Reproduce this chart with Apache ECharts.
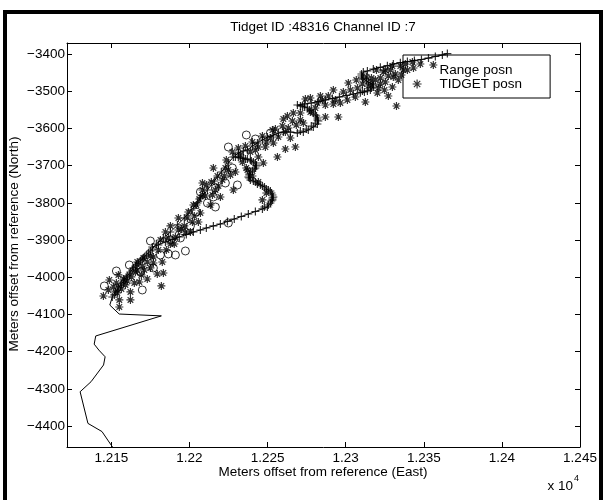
<!DOCTYPE html>
<html><head><meta charset="utf-8">
<script src="https://cdn.jsdelivr.net/npm/echarts@6/dist/echarts.min.js"></script>
<style>html,body{margin:0;padding:0;background:#fff}#c{width:603px;height:500px}</style>
</head><body><div id="c"></div>
<script>
const xTicks = [12150, 12200, 12250, 12300, 12350, 12400, 12450];
const yTicks = [-4400, -4300, -4200, -4100, -4000, -3900, -3800, -3700, -3600, -3500, -3400];

// Range track (solid line). '+' markers start at index plusStart.
const trackX = [12151,12149,12144,12135,12130,12137,12145,12146,12142,12139,12140,12182,12155,12149,
 12150.6,12152.6,12154.5,12156.4,12158.3,12160.2,12162.2,12164.1,12166.0,12168.6,12171.1,12173.7,12176.2,12178.8,12183.3,12187.8,12192.3,12196.7,12201.2,12205.1,12207.0,12211.5,12215.9,12220.4,12224.9,12228.1,
 12231.3,12234.5,12237.1,12240.3,12243.5,12246.7,12249.9,12253.7,12256.9,12260.1,12264.6,12269.1,
 12272.9,12276.1,12279.3,12281.9,12282.5,12281.9,12280.6,12278.0,12275.5,12272.3,12269.1,
 12273.6,12278.0,12282.5,12287.0,12291.5,12296.0,12300.4,12304.9,12309.4,
 12312.0,12315.8,12317.7,12317.1,12314.5,12311.3,12310.1,12311.3,
 12313.9,12317.7,12322.2,12326.7,12330.5,12335.0,12339.5,12344.0,12348.5,12353.0,12357.4,12361.9,12365.1];
const trackY = [-4458,-4446,-4415,-4393,-4308,-4281,-4236,-4214,-4196,-4180,-4158,-4104,-4099,-4075,
 -4053.2,-4039.7,-4029.0,-4018.2,-4007.5,-3996.7,-3986.0,-3975.2,-3967.2,-3956.4,-3945.7,-3934.9,-3924.2,-3910.7,-3894.6,-3878.5,-3859.6,-3840.8,-3819.3,-3800.5,-3787.1,-3765.6,-3741.4,-3717.2,-3693.0,-3676.9,
 -3666.1,-3660.7,-3658.0,-3647.3,-3639.2,-3631.2,-3623.1,-3617.7,-3612.4,-3609.7,-3609.7,-3612.4,
 -3609.7,-3604.3,-3596.2,-3588.2,-3580.1,-3572.0,-3564.0,-3553.2,-3545.2,-3539.8,-3537.1,
 -3534.4,-3531.7,-3527.7,-3523.6,-3519.6,-3515.6,-3511.6,-3507.5,-3504.0,
 -3502.1,-3496.8,-3488.7,-3480.6,-3475.3,-3467.2,-3459.1,-3448.4,
 -3445.7,-3440.3,-3435.8,-3431.4,-3426.9,-3423.4,-3420.2,-3417.5,-3414.8,-3410.8,-3406.7,-3402.7,-3398.7];
const plusStart = 14;

// Lower excursion of the range track (with '+' markers)
const loopX = [12176.2,12180.1,12184.6,12189.1,12193.5,12198.0,12202.5,12207.0,12210.8,12215.3,12219.8,12224.3,12228.7,12233.2,12237.7,12242.2,12246.7,
 12249.9,12251.8,12253.1,12253.7,12252.5,12250.5,12248.0,12245.4,12242.2,12239.0,12237.7,12238.4,12240.3,12242.2,12242.8,12240.9,12239.0,12235.8,12232.6,12229.4];
const loopY = [-3918.8,-3913.4,-3905.3,-3898.6,-3891.9,-3885.2,-3878.5,-3873.1,-3867.7,-3862.3,-3857.0,-3850.2,-3843.5,-3836.8,-3830.1,-3823.4,-3816.6,
 -3811.3,-3800.5,-3792.4,-3784.4,-3773.6,-3765.6,-3757.5,-3752.1,-3744.1,-3738.7,-3730.6,-3722.6,-3714.5,-3706.4,-3698.4,-3690.3,-3684.9,-3682.2,-3679.6,-3676.9];

// Extra '+' samples where the track turns slowly
const turnX = [12247.9,12250.5,12252.4,12253.1,12253.1,12251.8,12249.2,12246.7,12243.5,12240.9,12238.3,12238.3,12239.0,12241.5,12242.8,12242.2,12239.6,12237.1,12234.5,12231.3,
 12271.0,12274.8,12278.0,12280.6,12281.9,12281.2,12279.3,12276.8,12273.6,12271.0,
 12310.7,12313.9,12316.5,12317.7,12315.8,12313.3,12310.7,12310.1,
 12151.9,12153.8,12155.8,12157.7,12159.6,12161.5,12163.4,12165.4,12167.3,12169.8,12172.4,12175.0];
const turnY = [-3811.3,-3805.9,-3795.1,-3787.1,-3779.0,-3768.3,-3762.9,-3754.8,-3749.4,-3741.4,-3733.3,-3725.2,-3717.2,-3709.1,-3701.1,-3693.0,-3687.6,-3682.2,-3679.6,-3676.9,
 -3607.0,-3601.6,-3593.5,-3585.5,-3577.4,-3566.7,-3558.6,-3550.5,-3542.5,-3539.8,
 -3499.5,-3499.5,-3491.4,-3483.3,-3478.0,-3469.9,-3464.5,-3453.8,
 -4047.8,-4034.4,-4023.6,-4012.9,-4002.1,-3991.4,-3980.6,-3969.9,-3961.8,-3951.0,-3940.3,-3929.5];

// TIDGET positions (asterisks)
const tidX = [12144.9,12148.7,12153.2,12157.7,12155.1,12155.1,12162.2,12162.2,12169.8,12169.2,12167.9,12179.4,12183.3,12182.0,12176.9,12176.9,
 12184.6,12187.8,12192.9,12197.4,12201.9,12181.4,12190.3,12199.3,12204.4,12208.3,12215.3,12223.0,12208.3,12221.1,12226.2,12216.6,12228.1,12208.3,12207.0,12219.8,12213.4,12194.8,12173.0,12165.4,
 12231.3,12237.1,12244.1,12247.3,12253.7,12256.3,12261.4,12267.8,12255.0,12261.4,12260.1,12265.9,12242.2,12248.6,12233.9,
 12274.2,12281.9,12287.0,12292.1,12296.6,12287.0,12295.3,12292.1,12301.7,12306.2,12312.6,12277.4,12271.0,12283.8,12301.1,
 12325.4,12330.5,12324.1,12328.6,12335.0,12320.9,12335.7,12329.9,12339.5,12356.1,12316.5,12319.7,12342.7,12347.8,12332.5,12327.3,
 12148.1,12151.3,12153.8,12156.4,12159.0,12154.5,12160.2,12162.8,12164.7,12166.6,12171.1,12173.0,12175.0,12170.5,12166.6,12175.0,12180.1,12182.6,12185.2,12187.8,12191.0,12186.5,12192.9,12196.7,12200.6,12198.7,12203.1,12205.7,12202.5,12206.3,12210.2,12210.8,12214.0,12217.9,12214.7,12218.5,12222.3,12224.9,12229.4,12223.6,12227.5,
 12246.7,12249.2,12244.1,12240.3,12236.4,
 12232.6,12235.8,12239.0,12240.3,12244.1,12246.7,12249.2,12251.8,12253.1,12256.9,12259.5,12263.3,12264.6,12268.4,12266.5,12262.7,12271.0,12272.9,
 12277.4,12280.6,12285.1,12288.9,12293.4,12298.5,12303.0,12307.5,12310.7,12306.8,12313.3,12314.5,12319.0,12322.2,12320.3,
 12325.4,12327.3,12331.8,12333.7,12336.9,12322.2,12324.8,12329.9,12338.2,12343.4];
const tidY = [-4050.5,-4007.5,-4015.6,-4004.8,-4061.2,-4080.1,-4061.2,-4039.7,-3969.9,-3994.0,-4012.9,-3991.4,-3988.7,-4023.6,-3961.8,-3945.7,
 -3878.5,-3862.3,-3840.8,-3878.5,-3851.6,-3900.0,-3910.7,-3824.7,-3805.9,-3765.6,-3706.4,-3706.4,-3746.8,-3738.7,-3725.2,-3765.6,-3765.6,-3779.0,-3827.4,-3784.4,-3805.9,-3870.4,-3959.1,-3986.0,
 -3652.7,-3711.8,-3676.9,-3693.0,-3639.2,-3676.9,-3655.4,-3650.0,-3601.6,-3609.7,-3574.7,-3580.1,-3658.0,-3650.0,-3690.3,
 -3521.0,-3531.7,-3537.1,-3534.4,-3531.7,-3569.3,-3569.3,-3496.8,-3478.0,-3515.6,-3529.0,-3555.9,-3577.4,-3512.9,-3523.6,
 -3475.3,-3461.8,-3448.4,-3443.0,-3432.3,-3491.4,-3456.4,-3488.7,-3443.0,-3429.6,-3464.5,-3443.0,-3421.5,-3426.9,-3539.8,-3512.9,
 -4034.4,-4026.3,-4042.4,-4031.7,-4020.9,-3994.0,-4010.2,-3999.4,-4015.6,-3980.6,-3980.6,-4004.8,-3975.2,-3948.4,-3959.1,-3943.0,-3926.8,-3959.1,-3926.8,-3910.7,-3891.9,-3894.6,-3873.1,-3862.3,-3878.5,-3840.8,-3835.5,-3851.6,-3805.9,-3789.8,-3781.7,-3752.1,-3744.1,-3727.9,-3779.0,-3754.8,-3727.9,-3711.8,-3717.2,-3684.9,-3663.4,
 -3792.4,-3773.6,-3744.1,-3727.9,-3706.4,
 -3671.5,-3647.3,-3663.4,-3636.5,-3650.0,-3620.4,-3636.5,-3625.8,-3604.3,-3623.1,-3593.5,-3598.9,-3625.8,-3590.8,-3558.6,-3566.7,-3558.6,-3585.5,
 -3518.3,-3545.2,-3523.6,-3512.9,-3523.6,-3502.1,-3496.8,-3491.4,-3480.6,-3469.9,-3461.8,-3486.0,-3469.9,-3464.5,-3504.8,
 -3443.0,-3459.1,-3453.8,-3469.9,-3443.0,-3480.6,-3496.8,-3432.3,-3426.9,-3437.6];

// Other position fixes (circles)
const circX = [12145.5,12153.2,12161.5,12169.8,12168.6,12176.9,12181.4,12186.5,12191.0,12197.4,12224.9,12242.2,12251.8,12216.6,12223.0,12230.7,12215.3,12216.6,12224.9,12207.0,12200.6,12204.4,12211.5,12194.2,12187.8,12236.4,12227.5,12175.0];
const circY = [-4023.6,-3983.3,-3967.2,-4034.4,-3986.0,-3975.2,-3940.3,-3937.6,-3940.3,-3929.5,-3650.0,-3628.5,-3612.4,-3760.2,-3746.8,-3752.1,-3784.4,-3811.3,-3854.3,-3770.9,-3862.3,-3824.7,-3800.5,-3894.6,-3900.0,-3617.7,-3706.4,-3902.7];

const FONT = '"Liberation Sans", Arial, Helvetica, sans-serif';
const STAR = 'path://M5,0L5,10M0,5L10,5M1.5,1.5L8.5,8.5M1.5,8.5L8.5,1.5';
const PLUS = 'path://M5,0L5,10M0,5L10,5';
const zip = (a, b) => a.map((v, i) => [v, b[i]]);

const XMIN = 12121.6, XMAX = 12450, YMIN = -4456.5, YMAX = -3370.4;
const axLine = {show: true, onZero: false, lineStyle: {color: '#000', width: 1}};
const mkX = (pos, lab) => ({
  type: 'value', min: XMIN, max: XMAX, position: pos,
  axisLine: axLine,
  axisTick: {show: true, inside: true, length: 5, customValues: xTicks, lineStyle: {color: '#000'}},
  axisLabel: {show: lab, customValues: xTicks, formatter: v => String(v / 10000), color: '#000', fontSize: 13.5, fontFamily: FONT, margin: 4},
  splitLine: {show: false}
});
const mkY = (pos, lab) => ({
  type: 'value', min: YMIN, max: YMAX, position: pos,
  axisLine: axLine,
  axisTick: {show: true, inside: true, length: 5, customValues: yTicks, lineStyle: {color: '#000'}},
  axisLabel: {show: lab, customValues: yTicks, formatter: v => '\u2212' + Math.abs(v), color: '#000', fontSize: 13.5, fontFamily: FONT, margin: 2},
  splitLine: {show: false}
});
const hollow = {color: 'rgba(0,0,0,0)', borderColor: '#000', borderWidth: 1.2};

const chart = echarts.init(document.getElementById('c'), null, {renderer: 'canvas'});
chart.setOption({
  animation: false,
  backgroundColor: '#fff',
  grid: {left: 67, top: 43, right: 23, bottom: 53},
  xAxis: [mkX('bottom', true), mkX('top', false)],
  yAxis: [mkY('left', true), mkY('right', false)],
  legend: {
    orient: 'vertical', left: 403, top: 55,
    padding: [8, 28, 7, 9], itemGap: 0, itemWidth: 9, itemHeight: 14,
    borderColor: '#000', borderWidth: 1, backgroundColor: 'rgba(0,0,0,0)',
    selectedMode: false,
    textStyle: {fontSize: 13.5, fontFamily: FONT, color: '#000', lineHeight: 14, padding: [0, 0, 0, 13]},
    data: [
      {name: 'Range posn', icon: 'rect', itemStyle: {opacity: 0}},
      {name: 'TIDGET posn', icon: STAR, itemStyle: hollow}
    ]
  },
  series: [
    {name: 'Range posn', type: 'line', data: zip(trackX, trackY), symbol: 'none', lineStyle: {color: '#000', width: 1}, silent: true},
    {name: 'loop', type: 'line', data: zip(loopX, loopY), symbol: 'none', lineStyle: {color: '#000', width: 1}, silent: true},
    {name: 'range marks', type: 'scatter',
     data: zip(trackX.slice(plusStart), trackY.slice(plusStart)).concat(zip(loopX, loopY), zip(turnX, turnY)),
     symbol: PLUS, symbolSize: 8, itemStyle: hollow, silent: true},
    {name: 'TIDGET posn', type: 'scatter', data: zip(tidX, tidY), symbol: STAR, symbolSize: 8, itemStyle: hollow, silent: true},
    {name: 'fixes', type: 'scatter', data: zip(circX, circY), symbol: 'circle', symbolSize: 8, itemStyle: {color: 'rgba(0,0,0,0)', borderColor: '#000', borderWidth: 1}, silent: true}
  ],
  graphic: [
    {type: 'text', x: 323, y: 27, silent: true, style: {text: 'Tidget ID :48316 Channel ID :7', fontSize: 13.5, fontFamily: FONT, fill: '#000', align: 'center', verticalAlign: 'middle'}},
    {type: 'text', x: 323, y: 472, silent: true, style: {text: 'Meters offset from reference (East)', fontSize: 13.5, fontFamily: FONT, fill: '#000', align: 'center', verticalAlign: 'middle'}},
    {type: 'text', x: 14, y: 244, rotation: Math.PI / 2, silent: true, style: {text: 'Meters offset from reference (North)', fontSize: 13.5, fontFamily: FONT, fill: '#000', align: 'center', verticalAlign: 'middle'}},
    {type: 'text', x: 573, y: 486, silent: true, style: {text: 'x 10', fontSize: 13.5, fontFamily: FONT, fill: '#000', align: 'right', verticalAlign: 'middle'}},
    {type: 'text', x: 574, y: 479, silent: true, style: {text: '4', fontSize: 9, fontFamily: FONT, fill: '#000', align: 'left', verticalAlign: 'middle'}},
    {type: 'rect', silent: true, z: 100, shape: {x: 5, y: 12, width: 596, height: 520}, style: {fill: 'none', stroke: '#000', lineWidth: 4}}
  ]
});
</script>
</body></html>
